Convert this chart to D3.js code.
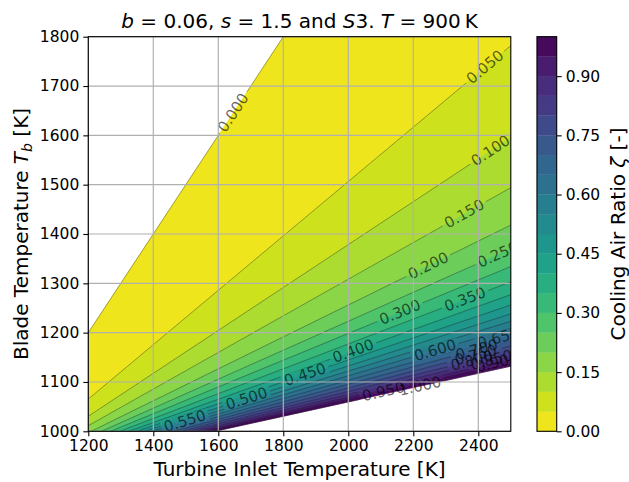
<!DOCTYPE html>
<html>
<head>
<meta charset="utf-8">
<script src="https://cdn.jsdelivr.net/npm/d3@7"></script>
<style>
  body { margin: 0; background: #fff; }
  text { font-family: "DejaVu Sans", sans-serif; }
</style>
</head>
<body>
<svg id="chart" width="629" height="482"></svg>
<script>
// contour levels of the cooling air ratio
const levels = [0, 0.05, 0.10, 0.15, 0.20, 0.25, 0.30, 0.35, 0.40, 0.45, 0.50,
                0.55, 0.60, 0.65, 0.70, 0.75, 0.80, 0.85, 0.90, 0.95, 1.00];
// blade temperature where each level line meets TIT = 2500 K
const tbAt2500 = [2500, 1782, 1596, 1494, 1418, 1370, 1334, 1303, 1277, 1256, 1238,
                  1223, 1209, 1196, 1184, 1173, 1163, 1154, 1146, 1139, 1132];
// all level lines start from the coolant point (T = 900 K)
const coolantT = 900;

// inline labels: which level, and the TIT where the label sits
const labelLevels = [0, 0.05, 0.10, 0.15, 0.20, 0.25, 0.30, 0.35, 0.40, 0.45, 0.50,
                     0.55, 0.60, 0.65, 0.70, 0.75, 0.80, 0.85, 0.90, 0.95, 1.00];
const labelTIT = [1646, 2421, 2438, 2357, 2246, 2460, 2159, 2359, 2015, 1867, 1687,
                  1497, 2267, 2462, 2395, 2392, 2380, 2440, 2458, 2108, 2221];

const xTicks = [1200, 1400, 1600, 1800, 2000, 2200, 2400];
const yTicks = [1000, 1100, 1200, 1300, 1400, 1500, 1600, 1700, 1800];
const cbTicks = [0, 0.15, 0.30, 0.45, 0.60, 0.75, 0.90];

const svg = d3.select('#chart');
const x = d3.scaleLinear().domain([1200, 2500]).range([88.3, 510.8]);
const y = d3.scaleLinear().domain([1000, 1800]).range([431.3, 36.7]);
const fmt = d3.format('.3f');
const colorOf = (v) => d3.interpolateViridis(1 - v);

// point on a level line at a given TIT
const tbOnLine = (i, t) => coolantT + (tbAt2500[i] - coolantT) * (t - coolantT) / (2500 - coolantT);
const angleOf = (i) => Math.atan2(y(tbAt2500[i]) - y(coolantT), x(2500) - x(coolantT)) * 180 / Math.PI;

const defs = svg.append('defs');
defs.append('clipPath').attr('id', 'plot-clip')
    .append('rect')
    .attr('x', x(1200)).attr('y', y(1800))
    .attr('width', x(2500) - x(1200)).attr('height', y(1000) - y(1800));

const plot = svg.append('g').attr('clip-path', 'url(#plot-clip)');

// filled bands between two neighbouring level lines
const bands = d3.range(levels.length - 1).map((i) => ({
    mid: (levels[i] + levels[i + 1]) / 2,
    pts: [[coolantT, coolantT], [2500, tbAt2500[i]], [2500, tbAt2500[i + 1]]],
}));
const toPx = d3.line().x((p) => x(p[0])).y((p) => y(p[1]));

plot.selectAll('path.band')
    .data(bands)
    .join('path')
    .attr('class', 'band')
    .attr('d', (b) => toPx(b.pts) + 'Z')
    .attr('fill', (b) => colorOf(b.mid))
    .attr('stroke', (b) => colorOf(b.mid))
    .attr('stroke-width', 0.6);

// labels first (hidden group) so we can measure them for the line gaps
const labelData = labelLevels.map((lv, k) => {
    const i = levels.indexOf(lv);
    return { lv, i, px: x(labelTIT[k]), py: y(tbOnLine(i, labelTIT[k])), ang: angleOf(i) };
});

const mask = defs.append('mask').attr('id', 'label-gaps').attr('maskUnits', 'userSpaceOnUse')
    .attr('x', 0).attr('y', 0).attr('width', 629).attr('height', 482);
mask.append('rect').attr('width', 629).attr('height', 482).attr('fill', '#fff');

const lineGroup = plot.append('g').attr('mask', 'url(#label-gaps)');
lineGroup.selectAll('line.level')
    .data(levels.map((lv, i) => i))
    .join('line')
    .attr('class', 'level')
    .attr('x1', x(coolantT)).attr('y1', y(coolantT))
    .attr('x2', x(2500)).attr('y2', (i) => y(tbAt2500[i]))
    .attr('stroke', '#000')
    .attr('stroke-opacity', 0.55)
    .attr('stroke-width', 0.6);

// grid over the filled contours
const grid = svg.append('g');
grid.selectAll('line.gx').data(xTicks).join('line')
    .attr('x1', (d) => x(d)).attr('x2', (d) => x(d))
    .attr('y1', y(1000)).attr('y2', y(1800))
    .attr('stroke', '#b0b0b0').attr('stroke-width', 1.2);
grid.selectAll('line.gy').data(yTicks).join('line')
    .attr('y1', (d) => y(d)).attr('y2', (d) => y(d))
    .attr('x1', x(1200)).attr('x2', x(2500))
    .attr('stroke', '#b0b0b0').attr('stroke-width', 1.2);

const labels = plot.append('g');
labels.selectAll('text')
    .data(labelData)
    .join('text')
    .attr('transform', (d) => `translate(${d.px},${d.py}) rotate(${d.ang})`)
    .attr('text-anchor', 'middle')
    .attr('dominant-baseline', 'central')
    .attr('font-size', 15)
    .attr('fill', '#000')
    .attr('fill-opacity', 0.62)
    .text((d) => fmt(d.lv))
    .each(function (d) {
        const w = this.getComputedTextLength() + 6;
        mask.append('rect')
            .attr('x', -w / 2).attr('y', -6).attr('width', w).attr('height', 12)
            .attr('transform', `translate(${d.px},${d.py}) rotate(${d.ang})`)
            .attr('fill', '#000');
    });

// axes
const xAxis = svg.append('g').attr('transform', `translate(0,${y(1000)})`)
    .call(d3.axisBottom(x).tickValues(xTicks).tickFormat(d3.format('d')).tickSizeOuter(0).tickSize(5).tickPadding(4));
const yAxis = svg.append('g').attr('transform', `translate(${x(1200)},0)`)
    .call(d3.axisLeft(y).tickValues(yTicks).tickFormat(d3.format('d')).tickSizeOuter(0).tickSize(5).tickPadding(4));
[xAxis, yAxis].forEach((a) => {
    a.select('.domain').remove();
    a.selectAll('.tick line').attr('stroke', '#000').attr('stroke-width', 1.1);
    a.selectAll('.tick text').attr('font-size', 15.5).attr('fill', '#000').attr('font-family', '"DejaVu Sans", sans-serif');
});

svg.append('rect')
    .attr('x', x(1200)).attr('y', y(1800))
    .attr('width', x(2500) - x(1200)).attr('height', y(1000) - y(1800))
    .attr('fill', 'none').attr('stroke', '#000').attr('stroke-width', 1.1);

// colorbar
const cb = d3.scaleLinear().domain([0, 1]).range([431.3, 36.7]);
const cbX = 537, cbW = 19.7;
const cbG = svg.append('g');
cbG.selectAll('rect.cb')
    .data(bands.map((b, i) => ({ lo: levels[i], hi: levels[i + 1], mid: b.mid })))
    .join('rect')
    .attr('x', cbX).attr('width', cbW)
    .attr('y', (d) => cb(d.hi)).attr('height', (d) => cb(d.lo) - cb(d.hi))
    .attr('fill', (d) => colorOf(d.mid))
    .attr('stroke', (d) => colorOf(d.mid)).attr('stroke-width', 0.3);
cbG.append('rect')
    .attr('x', cbX).attr('y', cb(1)).attr('width', cbW).attr('height', cb(0) - cb(1))
    .attr('fill', 'none').attr('stroke', '#000').attr('stroke-width', 1.1);
const cbAxis = svg.append('g').attr('transform', `translate(${cbX + cbW},0)`)
    .call(d3.axisRight(cb).tickValues(cbTicks).tickFormat(d3.format('.2f')).tickSizeOuter(0).tickSize(5).tickPadding(4));
cbAxis.select('.domain').remove();
cbAxis.selectAll('.tick line').attr('stroke', '#000').attr('stroke-width', 1.1);
cbAxis.selectAll('.tick text').attr('font-size', 15.5).attr('fill', '#000').attr('font-family', '"DejaVu Sans", sans-serif');

// title
const title = svg.append('text')
    .attr('x', (x(1200) + x(2500)) / 2).attr('y', 28)
    .attr('text-anchor', 'middle').attr('font-size', 20);
const titleParts = [
    ['b', true], [' = 0.06, ', false], ['s', true], [' = 1.5 and ', false],
    ['S', true], ['3. ', false], ['T', true], [' = 900\u2009K', false],
];
titleParts.forEach(([t, it]) => title.append('tspan').attr('font-style', it ? 'italic' : 'normal').text(t));

// axis labels
svg.append('text')
    .attr('x', (x(1200) + x(2500)) / 2).attr('y', 476)
    .attr('text-anchor', 'middle').attr('font-size', 20)
    .text('Turbine Inlet Temperature [K]');

const yl = svg.append('text')
    .attr('transform', `translate(28,${(y(1000) + y(1800)) / 2}) rotate(-90)`)
    .attr('text-anchor', 'middle').attr('font-size', 20);
yl.append('tspan').text('Blade Temperature ');
yl.append('tspan').attr('font-style', 'italic').text('T');
yl.append('tspan').attr('font-style', 'italic').attr('font-size', 14).attr('dy', 4).text('b');
yl.append('tspan').attr('dy', -4).text(' [K]');

const cl = svg.append('text')
    .attr('transform', `translate(625,${(y(1000) + y(1800)) / 2}) rotate(-90)`)
    .attr('text-anchor', 'middle').attr('font-size', 20);
cl.append('tspan').text('Cooling Air Ratio ');
cl.append('tspan').attr('font-style', 'italic').text('\u03b6');
cl.append('tspan').text(' [-]');
</script>
</body>
</html>
